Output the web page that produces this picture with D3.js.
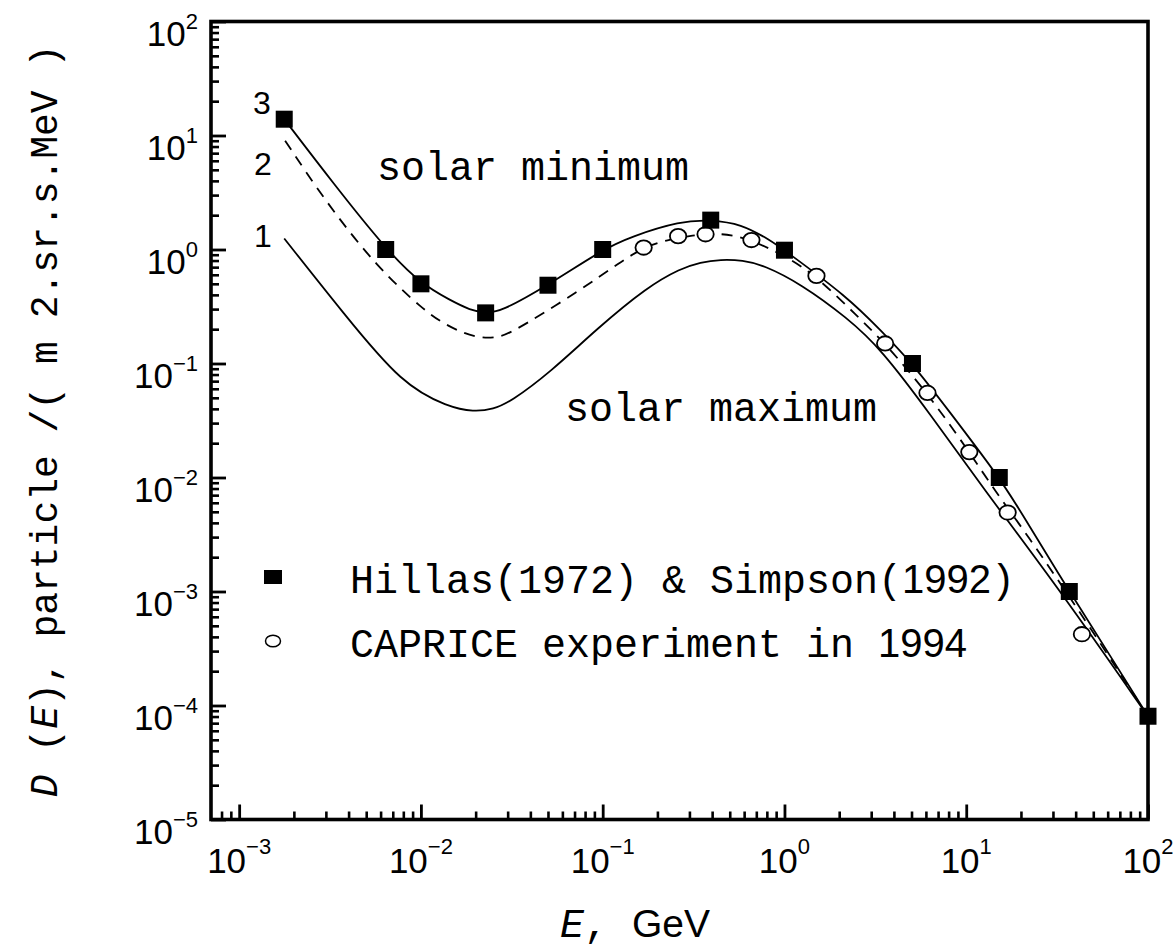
<!DOCTYPE html>
<html>
<head>
<meta charset="utf-8">
<script src="https://cdn.jsdelivr.net/npm/d3@7"></script>
<style>
  body { margin: 0; background: #fff; }
  svg { display: block; }
</style>
</head>
<body>
<div id="chart"></div>
<script>
// values (E in GeV, D in particles / m2.sr.s.MeV)
const hillasEnergy = [0.00177, 0.0064, 0.01, 0.0227, 0.05, 0.1, 0.393, 1.0, 5.06, 15.2, 36.9, 100];
const hillasFlux = [13.9, 1.0, 0.5, 0.278, 0.486, 1.0, 1.81, 0.986, 0.1, 0.01, 0.001, 8.05e-5];

const capriceEnergy = [0.168, 0.26, 0.368, 0.658, 1.5, 3.58, 6.12, 10.4, 16.9, 43.3];
const capriceFlux = [1.04, 1.31, 1.36, 1.21, 0.587, 0.15, 0.0552, 0.0167, 0.00493, 0.000422];

// curve 3 : solar minimum
const curve3Energy = [0.00177, 0.0033, 0.00643, 0.01, 0.0145, 0.0187, 0.0227, 0.0274, 0.05, 0.1, 0.142, 0.268, 0.393, 0.574, 0.84, 1.0, 2.22, 3.39, 5.06, 7.89, 15.2, 19.1, 36.9, 65.2, 100];
const curve3Flux = [13.9, 3.79, 1.0, 0.5, 0.359, 0.293, 0.278, 0.284, 0.486, 1.0, 1.29, 1.78, 1.81, 1.69, 1.2, 0.986, 0.384, 0.195, 0.1, 0.0398, 0.01, 0.00562, 0.001, 0.00024, 8.05e-5];

// curve 2 : dashed
const curve2Energy = [0.00179, 0.00304, 0.00573, 0.01035, 0.01334, 0.01738, 0.02213, 0.0263, 0.031, 0.0755, 0.125, 0.168, 0.226, 0.316, 0.407, 0.525, 0.658, 1.04, 1.5, 2.52, 3.58, 6.12, 10.4, 14.3, 20.8, 46.6, 100];
const curve2Flux = [9.0, 2.53, 0.703, 0.294, 0.224, 0.182, 0.166, 0.17, 0.182, 0.44, 0.778, 1.04, 1.22, 1.33, 1.39, 1.33, 1.21, 0.861, 0.58, 0.26, 0.15, 0.0552, 0.0167, 0.00774, 0.00345, 0.000524, 8e-5];

// curve 1 : solar maximum
const curve1Energy = [0.00177, 0.00375, 0.00794, 0.01413, 0.0195, 0.0251, 0.031, 0.0516, 0.0933, 0.176, 0.268, 0.345, 0.445, 0.589, 0.771, 1.23, 2.22, 3.39, 6.38, 12.0, 33.2, 100];
const curve1Flux = [1.25, 0.275, 0.0646, 0.0417, 0.0376, 0.0398, 0.046, 0.084, 0.203, 0.47, 0.681, 0.774, 0.817, 0.805, 0.728, 0.5, 0.251, 0.135, 0.0355, 0.00861, 0.001, 8e-5];

const xTickExponents = [-3, -2, -1, 0, 1, 2];
const yTickExponents = [2, 1, 0, -1, -2, -3, -4, -5];
const curveNames = ["3", "2", "1"];
const legendLabels = [["Hillas(1972) & Simpson(", "1992", ")"], ["CAPRICE experiment in ", "1994", ""]];

const MONO = "'Liberation Mono', 'Courier New', monospace";
const SANS = "'Liberation Sans', Arial, sans-serif";

class SpectrumChart {
  constructor(obj) {
    this.options = {
      width: 1173,
      height: 951,
      left: 211,
      right: 1148,
      top: 21.5,
      bottom: 819.5,
      xDomain: [7e-4, 100],
      yDomain: [1e-5, 100]
    };
    Object.keys(obj).forEach(key => {
      this.options[key] = obj[key];
    });
    this._setup();
  }

  init(selection) {
    this._svg = d3.select(selection).append("svg")
      .attr("width", this.options.width)
      .attr("height", this.options.height);

    this._initCurves();
    this._initMarkers();
    this._initAxes();
    this._initTickLabels();
    this._initTitles();
    this._initLegend();
  }

  _setup() {
    const o = this.options;
    this._x = d3.scaleLog().domain(o.xDomain).range([o.left, o.right]);
    this._y = d3.scaleLog().domain(o.yDomain).range([o.bottom, o.top]);
  }

  _minorTicks(domain) {
    const ticks = [];
    for (let e = -6; e <= 3; e++) {
      for (let k = 2; k <= 9; k++) {
        const v = k * Math.pow(10, e);
        if (v > domain[0] * 1.01 && v < domain[1] * 0.99) ticks.push(v);
      }
    }
    return ticks;
  }

  _initCurves() {
    const line = d3.line()
      .x(d => this._x(d[0]))
      .y(d => this._y(d[1]))
      .curve(d3.curveBasis);

    const curves = [
      { e: curve3Energy, d: curve3Flux, dash: null },
      { e: curve2Energy, d: curve2Flux, dash: "11,8" },
      { e: curve1Energy, d: curve1Flux, dash: null }
    ];

    this._svg.append("g")
      .selectAll("path")
      .data(curves)
      .enter()
      .append("path")
      .attr("d", c => line(c.e.map((v, i) => [v, c.d[i]])))
      .attr("fill", "none")
      .attr("stroke", "#000")
      .attr("stroke-width", 1.8)
      .attr("stroke-dasharray", c => c.dash);

    // curve numbers at the low energy end
    const labelPos = [[253, 114], [254, 175], [254, 247]];
    this._svg.append("g")
      .selectAll("text")
      .data(curveNames)
      .enter()
      .append("text")
      .attr("x", (d, i) => labelPos[i][0])
      .attr("y", (d, i) => labelPos[i][1])
      .attr("font-family", SANS)
      .attr("font-size", 32)
      .text(d => d);

    this._svg.append("text")
      .attr("x", 377).attr("y", 180)
      .attr("font-family", MONO).attr("font-size", 40)
      .text("solar minimum");

    this._svg.append("text")
      .attr("x", 565).attr("y", 421)
      .attr("font-family", MONO).attr("font-size", 40)
      .text("solar maximum");
  }

  _initMarkers() {
    const s = 17;
    this._svg.append("g")
      .selectAll("ellipse")
      .data(capriceEnergy.map((v, i) => [v, capriceFlux[i]]))
      .enter()
      .append("ellipse")
      .attr("cx", d => this._x(d[0]))
      .attr("cy", d => this._y(d[1]))
      .attr("rx", 8.2)
      .attr("ry", 7.2)
      .attr("fill", "#fff")
      .attr("stroke", "#000")
      .attr("stroke-width", 1.8);

    this._svg.append("g")
      .selectAll("rect")
      .data(hillasEnergy.map((v, i) => [v, hillasFlux[i]]))
      .enter()
      .append("rect")
      .attr("x", d => this._x(d[0]) - s / 2)
      .attr("y", d => this._y(d[1]) - s / 2)
      .attr("width", s)
      .attr("height", s)
      .attr("fill", "#000");
  }

  _initAxes() {
    const o = this.options;
    const xMajor = xTickExponents.map(e => Math.pow(10, e));
    const yMajor = yTickExponents.map(e => Math.pow(10, e));

    const styleTicks = (g, w) => {
      g.select(".domain").remove();
      g.selectAll(".tick line").attr("stroke", "#000").attr("stroke-width", w);
      g.selectAll(".tick text").remove();
    };

    this._svg.append("g")
      .attr("transform", `translate(0,${o.bottom})`)
      .call(d3.axisBottom(this._x).tickValues(this._minorTicks(o.xDomain)).tickSize(-8).tickSizeOuter(0))
      .call(g => styleTicks(g, 2.6));
    this._svg.append("g")
      .attr("transform", `translate(0,${o.bottom})`)
      .call(d3.axisBottom(this._x).tickValues(xMajor).tickSize(-15).tickSizeOuter(0))
      .call(g => styleTicks(g, 2.8));

    this._svg.append("g")
      .attr("transform", `translate(${o.left},0)`)
      .call(d3.axisLeft(this._y).tickValues(this._minorTicks(o.yDomain)).tickSize(-8).tickSizeOuter(0))
      .call(g => styleTicks(g, 2.6));
    this._svg.append("g")
      .attr("transform", `translate(${o.left},0)`)
      .call(d3.axisLeft(this._y).tickValues(yMajor).tickSize(-15).tickSizeOuter(0))
      .call(g => styleTicks(g, 2.8));

    this._svg.append("rect")
      .attr("x", o.left)
      .attr("y", o.top)
      .attr("width", o.right - o.left)
      .attr("height", o.bottom - o.top)
      .attr("fill", "none")
      .attr("stroke", "#000")
      .attr("stroke-width", 3.6);
  }

  _initTickLabels() {
    const o = this.options;
    const xl = this._svg.append("g")
      .selectAll("text")
      .data(xTickExponents)
      .enter()
      .append("text")
      .attr("x", d => this._x(Math.pow(10, d)))
      .attr("y", o.bottom + 53)
      .attr("text-anchor", "middle")
      .attr("font-family", SANS)
      .attr("font-size", 35);
    xl.append("tspan").text("10");
    xl.append("tspan")
      .attr("dy", -19)
      .attr("font-size", 22)
      .text(d => String(d).replace("-", "\u2212"));

    const yl = this._svg.append("g")
      .selectAll("text")
      .data(yTickExponents)
      .enter()
      .append("text")
      .attr("x", 198)
      .attr("y", d => this._y(Math.pow(10, d)) + 24)
      .attr("text-anchor", "end")
      .attr("font-family", SANS)
      .attr("font-size", 35);
    yl.append("tspan").text("10");
    yl.append("tspan")
      .attr("dy", -17)
      .attr("font-size", 22)
      .text(d => String(d).replace("-", "\u2212"));
  }

  _initTitles() {
    const xt = this._svg.append("text")
      .attr("x", 560)
      .attr("y", 937)
      .attr("font-family", MONO)
      .attr("font-size", 40);
    xt.append("tspan").attr("font-style", "italic").text("E");
    xt.append("tspan").text(", ");
    xt.append("tspan").attr("font-family", SANS).attr("font-size", 39).text("GeV");

    const yt = this._svg.append("text")
      .attr("transform", "translate(57,421) rotate(-90)")
      .attr("text-anchor", "middle")
      .attr("font-family", MONO)
      .attr("font-size", 38);
    yt.append("tspan").attr("font-style", "italic").text("D");
    yt.append("tspan").text(" (");
    yt.append("tspan").attr("font-style", "italic").text("E");
    yt.append("tspan").text("), particle /( m 2.sr.s.MeV )");
  }

  _initLegend() {
    const g = this._svg.append("g");
    g.append("rect")
      .attr("x", 264).attr("y", 570)
      .attr("width", 18).attr("height", 14)
      .attr("fill", "#000");
    g.append("ellipse")
      .attr("cx", 273).attr("cy", 641)
      .attr("rx", 7.5).attr("ry", 5.8)
      .attr("fill", "#fff")
      .attr("stroke", "#000")
      .attr("stroke-width", 1.5);

    const rows = g.selectAll("text")
      .data(legendLabels)
      .enter()
      .append("text")
      .attr("x", 350)
      .attr("y", (d, i) => 593 + i * 64)
      .attr("font-family", MONO)
      .attr("font-size", 40)
      .style("white-space", "pre");
    rows.append("tspan").text(d => d[0]);
    rows.append("tspan").attr("font-family", SANS).text(d => d[1]);
    rows.append("tspan").text(d => d[2]);
  }
}

const chart = new SpectrumChart({});
chart.init("#chart");
</script>
</body>
</html>
